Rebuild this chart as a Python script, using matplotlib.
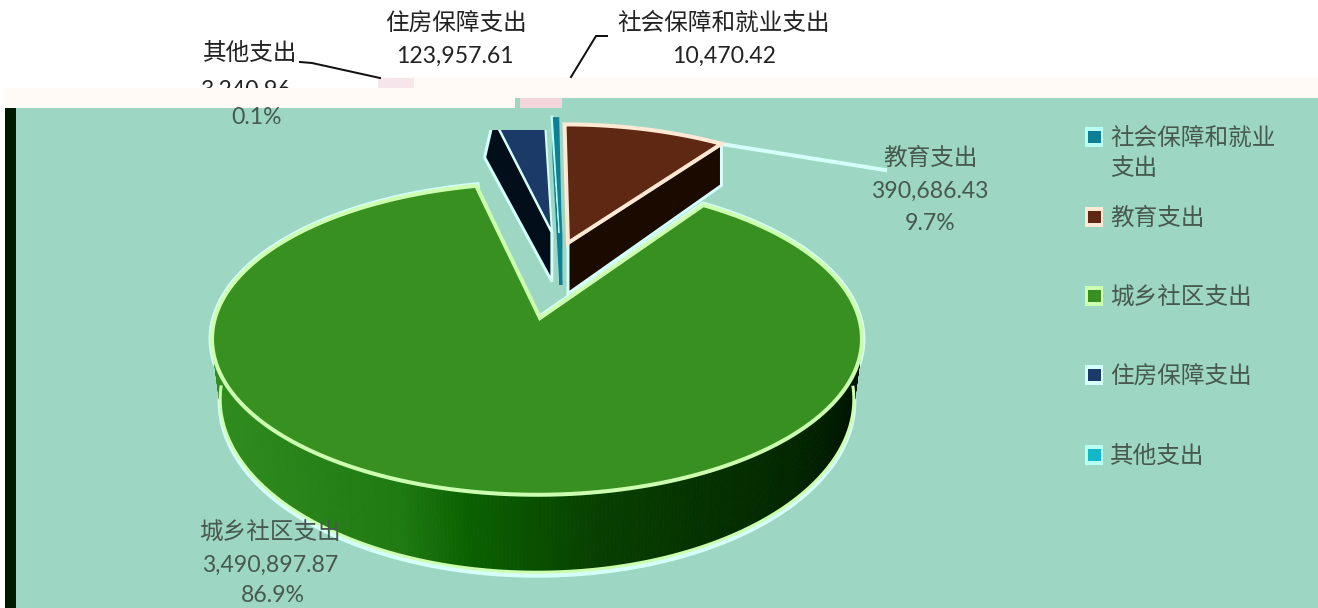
import numpy as np
import matplotlib
matplotlib.use('Agg')
import matplotlib.pyplot as plt
from matplotlib.patches import Polygon, Rectangle

plt.rcParams['font.family'] = ['Lato', 'Noto Sans CJK SC', 'DejaVu Sans']

# data, legend order
names = ['社会保障和就业支出', '教育支出', '城乡社区支出', '住房保障支出', '其他支出']
values = [10470.42, 390686.43, 3490897.87, 123957.61, 3240.96]

# style per slice
top_colors = ['#0f7f95', '#5e2812', '#379020', '#1c3a68', '#12b8c8']
wall_colors = ['#0f7f95', '#1a0a00', '#0a4400', '#020f1a', '#06323c']
edge_colors = ['#b8fff4', '#ffe8d4', '#ccffb0', '#d5fffa', '#b8fff4']
explode = [(0.08, -0.585), (0.103, -0.525), (0.0, 0.0), (0.05, -0.608), (0.076, -0.60)]

BG = '#9dd6c3'
CREAM = '#fffaf5'
HALO = '#d5fffa'
TXT = '#222222'
GARBLED = '#47594f'

W, H = 1318, 608
CX, CY, RX, RY, K, THICK = 537, 318, 322, 153, 0.1345, 58
LOW_SHRINK = 0.975


def project(u, v):
    s = 1 / (1 - K * v)
    return CX + RX * u * s, CY + RY * v * s


def drop(v):
    s = 1 / (1 - K * v)
    return THICK * s * s


def rim(a0, a1, off, n=200):
    t = np.radians(np.linspace(a0, a1, n))
    return off[0] + np.sin(t), off[1] - np.cos(t)


def px(size):
    return size * 72 / 100


fig = plt.figure(figsize=(W / 100, H / 100), dpi=100)
ax = fig.add_axes([0, 0, 1, 1])
ax.set_xlim(0, W)
ax.set_ylim(H, 0)
ax.axis('off')

# page background
ax.add_patch(Rectangle((5, 98), W, H, color=BG, zorder=0, lw=0))
ax.add_patch(Rectangle((5, 108), 11, H, color='#001a00', zorder=4, lw=0))

sweeps = np.array(values) / sum(values) * 360
starts = np.cumsum(np.r_[0, sweeps[:-1]]) - sweeps[0]

# green slice wall, gradient along the front edge
g0, g1 = starts[2], starts[2] + sweeps[2]
grad_x = [210, 400, 470, 600, 800, 860]
grad_c = [(0.19, 0.55, 0.12), (0.12, 0.48, 0.07), (0.04, 0.38, 0.0),
          (0.03, 0.25, 0.0), (0.01, 0.15, 0.0), (0.0, 0.08, 0.0)]
u, v = rim(g0, g1, explode[2], 500)
x, y = project(u, v)
d = drop(v)
xl = CX + (x - CX) * LOW_SHRINK
for i in range(len(x) - 1):
    if v[i] < 0.05:
        continue
    c = [np.interp(x[i], grad_x, [g[j] for g in grad_c]) for j in range(3)]
    ax.add_patch(Polygon([(x[i], y[i]), (x[i + 1], y[i + 1]),
                          (xl[i + 1], y[i + 1] + d[i + 1]), (xl[i], y[i] + d[i])],
                         closed=True, fc=c, ec=c, lw=0.6, zorder=1.2))
front = v > 0.05
ax.plot(xl[front], (y + d)[front] + 3, color=HALO, lw=px(5), zorder=1.1, solid_capstyle='butt')
ax.plot(xl[front], (y + d)[front], color=edge_colors[2], lw=px(3), zorder=1.3, solid_capstyle='butt')

# top faces and cut walls, back slices last so that they stay in front of the green
for i in [2, 3, 4, 0, 1]:
    off = explode[i]
    a0, a1 = starts[i], starts[i] + sweeps[i]
    u, v = rim(a0, a1, off)
    x, y = project(u, v)
    ax0, ay0 = project(off[0], off[1])
    if i == 2:
        ax0 += 3
    face = np.r_[[[ax0, ay0]], np.c_[x, y]]
    parts = []
    if i == 1:
        # right cut wall of the brown slice
        wall = [(ax0, ay0), (x[-1], y[-1]), (x[-1], y[-1] + drop(v[-1])), (ax0, ay0 + drop(off[1]))]
        parts.append(ax.add_patch(Polygon(wall, closed=True, fc=wall_colors[i], ec=HALO, lw=px(3), zorder=1.7)))
    if i == 3:
        # left cut wall of the navy slice
        wall = [(ax0, ay0), (x[0], y[0]), (x[0] - 9, y[0] + drop(v[0])), (ax0, ay0 + drop(off[1]))]
        parts.append(ax.add_patch(Polygon(wall, closed=True, fc=wall_colors[i], ec=HALO, lw=px(3), zorder=1.7)))
    if i == 0:
        # the teal sliver shows mostly as its cut wall
        wall = [(ax0, ay0), (x[0], y[0]), (x[0], y[0] + drop(v[0])), (ax0, ay0 + drop(off[1]))]
        parts.append(ax.add_patch(Polygon(wall, closed=True, fc=wall_colors[i], ec=wall_colors[i], lw=px(3), zorder=1.7)))
    edge = top_colors[0] if i == 0 else edge_colors[i]
    parts.append(ax.add_patch(Polygon(face, closed=True, fc=top_colors[i], ec=edge,
                                      lw=px(4 if i in (1, 2) else 2), zorder=2 if i != 2 else 1.5,
                                      joinstyle='miter')))
    if i == 2:
        ax.plot(face[:, 0], face[:, 1], color=HALO, lw=px(7), zorder=1.05)
    if i == 3:
        clip = Rectangle((0, 130), W, H, transform=ax.transData)
        for p in parts:
            p.set_clip_path(clip)

# label connector of the brown slice
ax.plot([715, 885], [143, 170], color=HALO, lw=px(4), zorder=1.9)

# band that covers the top of the pie
ax.add_patch(Rectangle((5, 88), 385, 20, color=CREAM, zorder=3, lw=0))
ax.add_patch(Rectangle((390, 77), 125, 31, color=CREAM, zorder=3, lw=0))
ax.add_patch(Rectangle((515, 77), W, 21, color=CREAM, zorder=3, lw=0))

# leftovers of the clipped percent labels
ax.add_patch(Rectangle((378, 78), 36, 10, color='#f6e6ec', zorder=3.5, lw=0))
ax.add_patch(Rectangle((520, 98), 42, 10, color='#f3d6dc', zorder=3.5, lw=0))

# labels above the band
fs = px(23.6)
ax.text(250, 53, names[4], ha='center', va='center', fontsize=fs, color=TXT, zorder=2.5)
ax.text(245, 90, f'{values[4]:,.2f}', ha='center', va='center', fontsize=px(23), color=TXT, zorder=2.5)
ax.text(456, 23, names[3], ha='center', va='center', fontsize=fs, color=TXT, zorder=5)
ax.text(455, 56, f'{values[3]:,.2f}', ha='center', va='center', fontsize=px(23), color=TXT, zorder=5)
ax.text(724, 23, names[0], ha='center', va='center', fontsize=fs, color=TXT, zorder=5)
ax.text(724, 56, f'{values[0]:,.2f}', ha='center', va='center', fontsize=px(23), color=TXT, zorder=5)
ax.plot([300, 312, 380], [62, 63, 78], color='#111111', lw=px(2), zorder=5)
ax.plot([607, 596, 571], [36, 36, 77], color='#111111', lw=px(2), zorder=5)


def pct(i):
    return f'{values[i] / sum(values) * 100:.1f}%'


ax.text(257, 118, pct(4), ha='center', va='center', fontsize=px(23), color=GARBLED, zorder=5)
ax.text(930, 158, names[1], ha='center', va='center', fontsize=fs, color=GARBLED, zorder=5)
ax.text(930, 191, f'{values[1]:,.2f}', ha='center', va='center', fontsize=px(23), color=GARBLED, zorder=5)
ax.text(930, 223, pct(1), ha='center', va='center', fontsize=px(23), color=GARBLED, zorder=5)
ax.text(270, 533, names[2], ha='center', va='center', fontsize=fs, color=GARBLED, zorder=5)
ax.text(270, 565, f'{values[2]:,.2f}', ha='center', va='center', fontsize=px(23), color=GARBLED, zorder=5)
ax.text(273, 595, pct(2), ha='center', va='center', fontsize=px(23), color=GARBLED, zorder=5)

# legend
legend_y = [137, 217, 296, 375, 455]
legend_txt = ['社会保障和就业\n支出', names[1], names[2], names[3], names[4]]
for i in range(5):
    yy = legend_y[i]
    ax.add_patch(Rectangle((1085, yy - 10), 18, 20, fc=edge_colors[i], ec='none', zorder=4))
    ax.add_patch(Rectangle((1088, yy - 6), 13, 12, fc=top_colors[i], ec='none', zorder=5))
    ax.text(1110, yy - 10, legend_txt[i], ha='left', va='top', fontsize=fs, color=GARBLED,
            linespacing=1.45, zorder=5)

fig.savefig('out.png', dpi=100)
